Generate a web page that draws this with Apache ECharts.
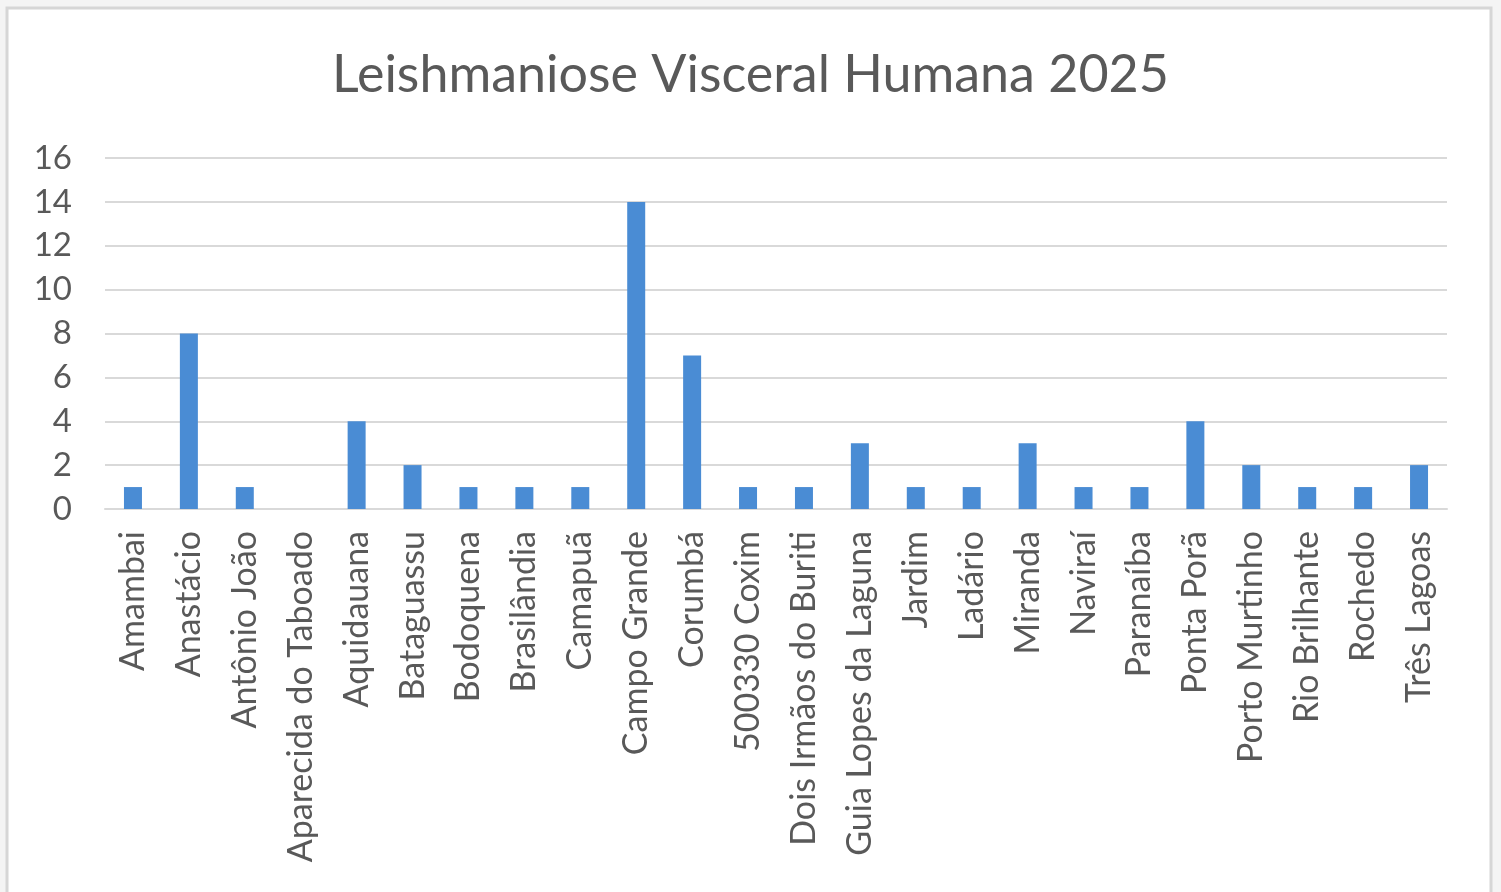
<!DOCTYPE html>
<html lang="pt">
<head>
    <meta charset="UTF-8">
    <title>Leishmaniose Visceral Humana 2025</title>
    <script src="https://cdn.jsdelivr.net/npm/echarts@6/dist/echarts.min.js"></script>
    <style>
        html,body{margin:0;padding:0;background:#f4f4f4;}
    </style>
</head>
<body>
    <div id="chart1" style="width:1501px;height:892px;"></div>
    <script>
        var myCharts=echarts.init(document.getElementById("chart1"))
        var municipios=["Amambai","Anastácio","Antônio João","Aparecida do Taboado","Aquidauana","Bataguassu","Bodoquena","Brasilândia","Camapuã","Campo Grande","Corumbá","500330 Coxim","Dois Irmãos do Buriti","Guia Lopes da Laguna","Jardim","Ladário","Miranda","Naviraí","Paranaíba","Ponta Porã","Porto Murtinho","Rio Brilhante","Rochedo","Três Lagoas"]
        var casos=[1,8,1,0,4,2,1,1,1,14,7,1,1,3,1,1,3,1,1,4,2,1,1,2]
        var fonte="Lato, 'Open Sans', sans-serif"
        var option={
            backgroundColor:"#f4f4f4",
            textStyle:{fontFamily:fonte},
            graphic:[{
                type:"rect",
                z:-1,
                shape:{x:7,y:8,width:1484,height:900},
                style:{fill:"#ffffff",stroke:"#d6d6d6",lineWidth:3}
            }],
            title:{
                text:"Leishmaniose Visceral Humana 2025",
                left:"center",
                top:44,
                textStyle:{
                    color:"#595959",
                    fontSize:52,
                    fontWeight:"normal",
                    fontFamily:fonte
                }
            },
            grid:{
                left:105,
                right:54,
                top:158,
                bottom:383
            },
            xAxis:{
                type:"category",
                data:municipios,
                axisTick:{show:false},
                axisLine:{lineStyle:{color:"#d9d9d9",width:2}},
                axisLabel:{
                    rotate:90,
                    interval:0,
                    margin:22,
                    color:"#595959",
                    fontSize:34,
                    fontFamily:fonte
                }
            },
            yAxis:{
                type:"value",
                min:0,
                max:16,
                interval:2,
                axisLine:{show:false},
                axisTick:{show:false},
                splitLine:{lineStyle:{color:"#d9d9d9",width:2}},
                axisLabel:{
                    margin:33,
                    color:"#595959",
                    fontSize:33,
                    fontFamily:fonte
                }
            },
            series:[{
                name:"Casos",
                type:"bar",
                data:casos,
                barWidth:18,
                itemStyle:{color:"#4a8cd4"}
            }]
        }
        myCharts.setOption(option)
    </script>
</body>
</html>
